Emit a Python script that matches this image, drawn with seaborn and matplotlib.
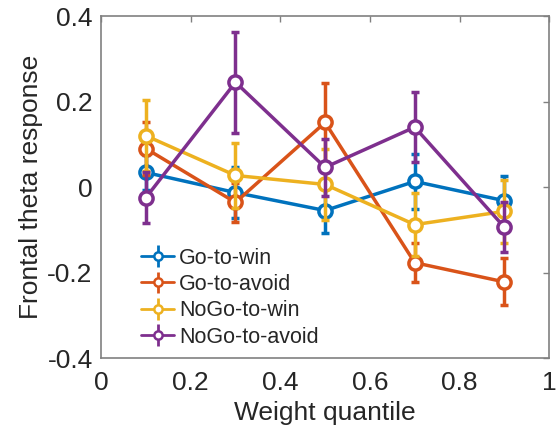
import numpy as np
import pandas as pd
import matplotlib
matplotlib.use("Agg")
import matplotlib.pyplot as plt
import seaborn as sns
from matplotlib.lines import Line2D
from matplotlib.legend_handler import HandlerTuple

quantiles = [0.1, 0.3, 0.5, 0.7, 0.9]
conditions = ["Go-to-win", "Go-to-avoid", "NoGo-to-win", "NoGo-to-avoid"]
go_win = [0.034, -0.013, -0.055, 0.013, -0.032]
go_win_err = [0.040, 0.060, 0.052, 0.064, 0.058]
go_avoid = [0.090, -0.036, 0.151, -0.177, -0.222]
go_avoid_err = [0.062, 0.045, 0.092, 0.046, 0.055]
nogo_win = [0.120, 0.027, 0.006, -0.088, -0.057]
nogo_win_err = [0.083, 0.076, 0.083, 0.073, 0.074]
nogo_avoid = [-0.025, 0.245, 0.046, 0.140, -0.094]
nogo_avoid_err = [0.060, 0.118, 0.066, 0.082, 0.058]
colors = ["#0072BD", "#D95319", "#EDB120", "#7E2F8E"]

means = [go_win, go_avoid, nogo_win, nogo_avoid]
errs = [go_win_err, go_avoid_err, nogo_win_err, nogo_avoid_err]

df = pd.DataFrame({
    "quantile": np.tile(quantiles, len(conditions)),
    "response": np.concatenate(means),
    "err": np.concatenate(errs),
    "condition": np.repeat(conditions, len(quantiles)),
})

sns.set_style("white")
plt.rcParams["font.family"] = ["Liberation Sans", "DejaVu Sans"]

fig = plt.figure(figsize=(5.56, 4.33), dpi=100)
ax = fig.add_axes([0.1817, 0.1732, 0.806, 0.7898])

handles = []
for i, (cond, col) in enumerate(zip(conditions, colors)):
    sub = df[df["condition"] == cond]
    ax.errorbar(sub["quantile"], sub["response"], yerr=sub["err"], fmt="none",
                ecolor=col, elinewidth=2.5, capsize=3, capthick=2.5, zorder=2 + 2 * i)
    sns.lineplot(data=sub, x="quantile", y="response", color=col, lw=2.5,
                 marker="o", markersize=9.5, markerfacecolor="white",
                 markeredgecolor=col, markeredgewidth=2.5, ax=ax, zorder=3 + 2 * i,
                 legend=False)
    ln = Line2D([], [], color=col, lw=2, marker="o", markersize=6,
                markerfacecolor="white", markeredgecolor=col, markeredgewidth=1.8)
    eb_h = ax.errorbar([], [], yerr=[], fmt="none", ecolor=col, elinewidth=2,
                       capsize=3, capthick=2)
    handles.append((eb_h, ln))

ax.set_xlim(0, 1)
ax.set_ylim(-0.4, 0.4)
ax.set_xticks([0, 0.2, 0.4, 0.6, 0.8, 1])
ax.set_xticklabels(["0", "0.2", "0.4", "0.6", "0.8", "1"])
ax.set_yticks([-0.4, -0.2, 0, 0.2, 0.4])
ax.set_yticklabels(["-0.4", "-0.2", "0", "0.2", "0.4"])
ax.tick_params(direction="in", length=4, width=1, colors="#808080",
               labelcolor="#262626", labelsize=19, top=True, right=True)
ax.tick_params(axis="x", pad=9)
ax.tick_params(axis="y", pad=6)
for s in ax.spines.values():
    s.set_color("#808080")
    s.set_linewidth(1.2)
ax.set_xlabel("Weight quantile", fontsize=19, color="#262626", labelpad=5)
ax.set_ylabel("Frontal theta response", fontsize=19, color="#262626", labelpad=3)

leg = ax.legend(handles, conditions, handler_map={tuple: HandlerTuple(ndivide=1)},
                loc="lower left", bbox_to_anchor=(0.09, 0.03), frameon=False,
                fontsize=15.5, handlelength=1.5, handletextpad=0.25,
                labelspacing=0.25, borderaxespad=0, borderpad=0)

fig.savefig("out.png", dpi=100)
